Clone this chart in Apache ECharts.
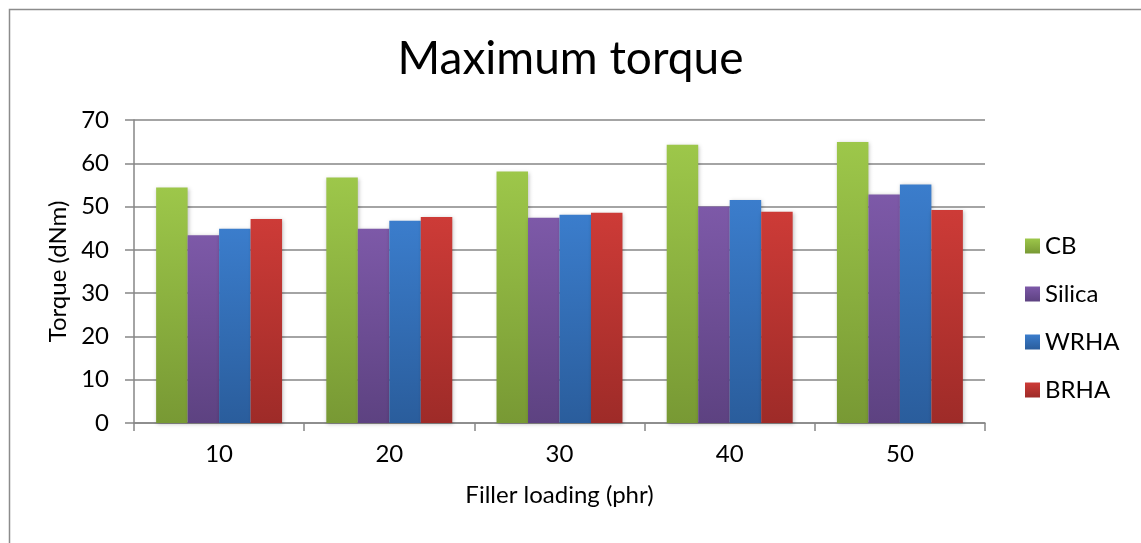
<!DOCTYPE html>
<html>
<head>
<meta charset="utf-8">
<style>
  html, body { margin: 0; padding: 0; background: #fff; }
  #chart { width: 1141px; height: 543px; }
</style>
<script src="https://cdn.jsdelivr.net/npm/echarts@6/dist/echarts.min.js"></script>
</head>
<body>
<div id="chart"></div>
<script>
// Filler loading levels (phr)
const categories = ['10', '20', '30', '40', '50'];

// Maximum torque (dNm) for each filler type
const cbValues     = [54.4, 56.7, 58.1, 64.3, 64.9];
const silicaValues = [43.4, 44.9, 47.4, 50.0, 52.8];
const wrhaValues   = [44.9, 46.7, 48.1, 51.5, 55.1];
const brhaValues   = [47.1, 47.6, 48.6, 48.8, 49.2];

const seriesNames = ['CB', 'Silica', 'WRHA', 'BRHA'];

const FONT = 'Lato';

function grad(top, bottom) {
  return new echarts.graphic.LinearGradient(0, 0, 0, 1, [
    { offset: 0, color: top },
    { offset: 1, color: bottom }
  ]);
}

const palette = [
  grad('#9dc74a', '#789934'),
  grad('#7d59a8', '#5d4281'),
  grad('#3b7dcc', '#2a5d9c'),
  grad('#cd3b37', '#9e2b28')
];

function barSeries(name, data, color) {
  return {
    name: name,
    type: 'bar',
    data: data,
    barGap: '0%',
    barCategoryGap: '26%',
    itemStyle: {
      color: color,
      shadowColor: 'rgba(0,0,0,0.25)',
      shadowBlur: 4,
      shadowOffsetX: 1,
      shadowOffsetY: 1
    }
  };
}

const chart = echarts.init(document.getElementById('chart'), null, { renderer: 'canvas' });

chart.setOption({
  animation: false,
  backgroundColor: '#ffffff',
  title: {
    text: 'Maximum torque',
    left: 'center',
    top: 31,
    textStyle: { fontFamily: FONT, fontSize: 46, fontWeight: 'normal', color: '#000' }
  },
  graphic: [{
    type: 'rect',
    shape: { x: 9.5, y: 9.5, width: 1200, height: 600 },
    style: { fill: 'none', stroke: '#8c8c8c', lineWidth: 1.5 },
    silent: true,
    z: -1
  }],
  legend: {
    orient: 'vertical',
    left: 1020,
    top: 229,
    itemWidth: 15,
    itemHeight: 15,
    itemGap: 24,
    icon: 'rect',
    textStyle: { fontFamily: FONT, fontSize: 24, color: '#000' },
    data: seriesNames
  },
  grid: { left: 134, right: 156, top: 120, bottom: 120 },
  xAxis: {
    type: 'category',
    data: categories,
    name: 'Filler loading (phr)',
    nameLocation: 'middle',
    nameGap: 60,
    nameTextStyle: { fontFamily: FONT, fontSize: 24, color: '#000' },
    axisLine: { lineStyle: { color: '#868686', width: 1.5 } },
    axisTick: { show: true, length: 8, lineStyle: { color: '#868686', width: 1.5 } },
    axisLabel: { fontFamily: FONT, fontSize: 24, color: '#000', margin: 19 }
  },
  yAxis: {
    type: 'value',
    min: 0,
    max: 70,
    interval: 10,
    name: 'Torque (dNm)',
    nameLocation: 'middle',
    nameGap: 62,
    nameRotate: 90,
    nameTextStyle: { fontFamily: FONT, fontSize: 24, color: '#000' },
    axisLine: { show: true, lineStyle: { color: '#868686', width: 1.5 } },
    axisTick: { show: true, length: 9, lineStyle: { color: '#868686', width: 1.5 } },
    axisLabel: { fontFamily: FONT, fontSize: 24, color: '#000', margin: 25 },
    splitLine: { lineStyle: { color: '#868686', width: 1.5 } }
  },
  series: [
    barSeries(seriesNames[0], cbValues, palette[0]),
    barSeries(seriesNames[1], silicaValues, palette[1]),
    barSeries(seriesNames[2], wrhaValues, palette[2]),
    barSeries(seriesNames[3], brhaValues, palette[3])
  ]
});
</script>
</body>
</html>
